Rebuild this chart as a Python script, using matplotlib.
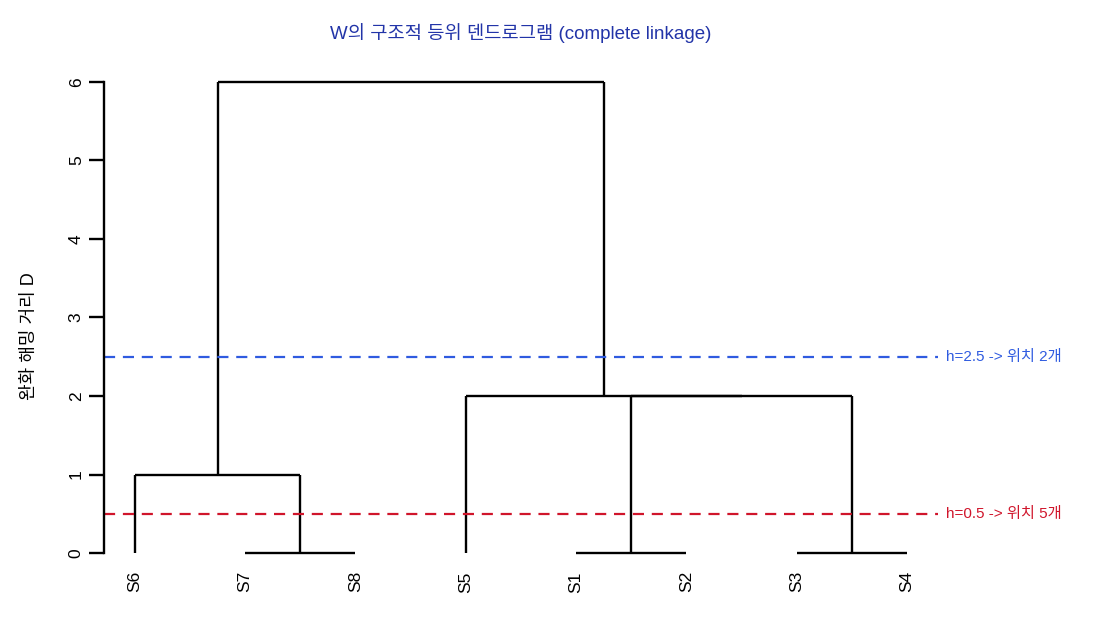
import matplotlib
matplotlib.use("Agg")
import matplotlib.pyplot as plt

plt.rcParams['font.family'] = ['Liberation Sans', 'Noto Sans CJK KR', 'DejaVu Sans']

# leaf order along the x axis
leaves = ["S6", "S7", "S8", "S5", "S1", "S2", "S3", "S4"]
# merges: (left child, right child, height); children are leaf names or merge index
merges = [
    ("S7", "S8", 0.0),
    ("S1", "S2", 0.0),
    ("S3", "S4", 0.0),
    ("S6", 0, 1.0),
    (1, 2, 2.0),
    ("S5", 4, 2.0),
    (3, 5, 6.0),
]
cut_heights = [2.5, 0.5]
cut_labels = ["h=2.5 -> 위치 2개", "h=0.5 -> 위치 5개"]
cut_colors = ["#2f5be0", "#d0152b"]

fig = plt.figure(figsize=(11, 6.4), dpi=100)
ax = fig.add_axes([0.0945, 0.1063, 0.7582, 0.7953])

pos = {name: i + 1 for i, name in enumerate(leaves)}
node_x, node_h = [], []


def child(c):
    if isinstance(c, str):
        return pos[c], 0.0
    return node_x[c], node_h[c]


for a, b, h in merges:
    xa, ha = child(a)
    xb, hb = child(b)
    ax.plot([xa, xa], [ha, h], color="black", lw=1.7, solid_capstyle="butt")
    ax.plot([xb, xb], [hb, h], color="black", lw=1.7, solid_capstyle="butt")
    ax.plot([xa, xb], [h, h], color="black", lw=1.7, solid_capstyle="butt")
    node_x.append((xa + xb) / 2)
    node_h.append(h)

for h, lab, col in zip(cut_heights, cut_labels, cut_colors):
    ax.plot([0.72, 8.28], [h, h], color=col, lw=1.6, ls=(0, (5, 3.5)), clip_on=False)
    ax.text(8.35, h, lab, color=col, fontsize=11, va="center", ha="left")

ax.set_xlim(0.72, 8.28)
ax.set_ylim(-0.24, 6.24)

for s in ["top", "right", "bottom"]:
    ax.spines[s].set_visible(False)
ax.spines["left"].set_bounds(0, 6)
ax.spines["left"].set_linewidth(1.7)
ax.set_yticks(range(0, 7))
ax.set_yticklabels([str(v) for v in range(0, 7)], rotation=90, va="center", fontsize=12.5)
ax.tick_params(axis="y", length=11, width=1.7, pad=3.5)

ax.set_xticks([])
for name, x in pos.items():
    ax.text(x, -0.23, name, rotation=90, ha="center", va="top", fontsize=12.5)

ax.set_ylabel("완화 해밍 거리 D", fontsize=13)
ax.yaxis.set_label_coords(-0.079, 0.464)
ax.set_title("W의 구조적 등위 덴드로그램 (complete linkage)", color="#2234a8", fontsize=13.5, pad=17)

fig.savefig("out.png", dpi=100)
